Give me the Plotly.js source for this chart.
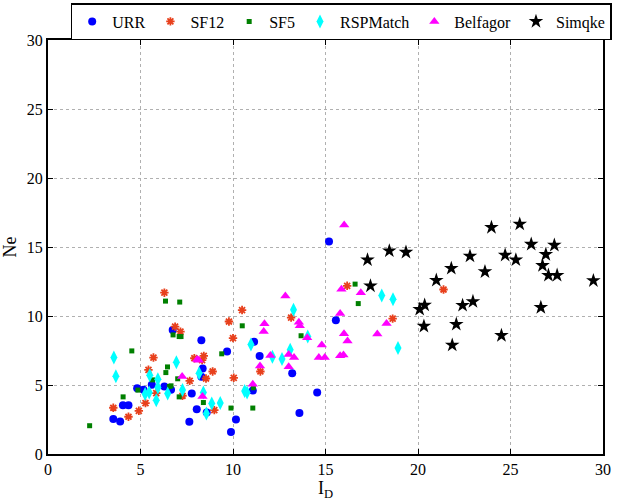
<!DOCTYPE html>
<html><head><meta charset="utf-8">
<script src="https://cdn.plot.ly/plotly-3.0.1.min.js"></script>
<style>html,body{margin:0;padding:0;background:#fff}#chart{width:626px;height:502px}</style>
</head><body><div id="chart"></div>
<script>
const seriesNames = ["URR","SF12","SF5","RSPMatch","Belfagor","Simqke"];

const urrX = [3.53,3.9,4.05,4.35,4.82,5.16,5.61,6.29,6.65,6.74,7.77,8.04,7.64,8.29,8.36,8.29,8.58,9.68,11.14,11.44,11.07,10.16,9.89,13.2,13.59,14.55,15.56,15.19];
const urrY = [2.53,2.36,3.54,3.54,4.77,4.65,5.01,4.89,4.65,8.99,4.39,3.25,2.34,8.24,6.19,5.59,3.01,7.43,8.14,7.1,4.6,2.5,1.6,5.86,2.98,4.45,9.69,15.4];

const sf12X = [3.53,4.35,4.91,5.27,5.43,5.7,5.85,6.29,6.87,7.16,7.27,7.66,7.91,8.33,8.42,8.54,8.9,8.99,9.78,10.49,10.0,10.04,11.48,13.14,16.17,18.63,21.38];
const sf12Y = [3.35,2.7,3.13,3.69,6.1,6.99,4.41,11.69,9.23,8.87,4.22,5.3,6.94,6.8,7.11,5.47,5.98,3.18,9.6,10.43,8.4,5.52,5.98,9.88,12.19,9.81,11.92];

const sf5X = [2.25,4.06,4.53,4.86,5.65,6.35,7.12,6.76,7.09,7.19,6.37,6.46,6.56,6.65,7.01,7.09,8.4,9.39,10.5,9.89,11.07,11.1,13.68,16.6,16.77];
const sf5Y = [2.05,4.14,7.47,4.63,5.37,11.08,11.01,8.63,8.51,8.51,5.9,6.31,4.89,4.94,5.45,4.14,3.73,7.26,9.29,3.33,3.33,4.8,8.57,12.31,10.9];

const rspX = [3.56,3.67,5.25,5.5,5.47,5.94,5.94,5.85,6.47,6.94,7.27,8.17,8.4,8.56,8.85,9.31,10.97,10.63,10.76,12.13,12.65,13.09,13.27,14.04,18.04,18.65,18.92];
const rspY = [6.99,5.64,4.34,5.71,4.46,5.42,4.82,3.9,4.39,6.65,4.63,5.86,4.46,2.94,3.66,3.69,7.93,4.57,4.45,7.05,6.88,7.55,10.45,8.52,11.49,11.22,7.68];

const belX = [7.25,8.06,8.15,8.35,11.07,11.46,11.66,11.7,12.02,12.83,13.01,13.3,13.01,13.56,13.61,14.01,14.8,14.64,14.96,15.79,15.86,16.91,16.0,16.19,15.79,15.97,17.8,18.3,16.01];
const belY = [5.61,6.84,6.8,4.17,5.05,6.38,8.88,9.43,7.14,11.45,7.21,7.0,6.33,9.55,9.29,8.43,7.9,7.0,7.0,10.19,11.93,11.69,8.71,8.19,7.12,7.17,8.7,9.45,16.59];

const simX = [17.27,18.45,19.35,17.43,20.09,20.36,20.32,20.99,21.8,21.85,22.07,22.41,22.97,22.81,23.62,23.97,24.51,24.71,25.29,25.5,26.12,26.64,26.73,26.91,27.05,27.37,27.52,29.48];
const simY = [14.07,14.72,14.62,12.18,10.48,10.79,9.26,12.59,13.45,7.89,9.4,10.77,11.05,14.34,13.21,16.42,8.59,14.41,14.07,16.66,15.2,10.62,13.66,14.46,12.95,15.13,12.95,12.56];

const xTicks = [0,5,10,15,20,25,30];
const yTicks = [0,5,10,15,20,25,30];

const traces = [
  {x:urrX,y:urrY,name:seriesNames[0],mode:'markers',type:'scatter',
   marker:{symbol:'circle',size:8,color:'#0000ff',line:{width:0}}},
  {x:sf12X,y:sf12Y,name:seriesNames[1],mode:'markers',type:'scatter',
   marker:{symbol:'asterisk-open',size:7,color:'#e8401c',line:{width:1.8,color:'#e8401c'}}},
  {x:sf5X,y:sf5Y,name:seriesNames[2],mode:'markers',type:'scatter',
   marker:{symbol:'square',size:5,color:'#008000',line:{width:0}}},
  {x:rspX,y:rspY,name:seriesNames[3],mode:'markers',type:'scatter',
   marker:{symbol:'diamond-tall',size:10,color:'#00ffff',line:{width:0}}},
  {x:belX,y:belY,name:seriesNames[4],mode:'markers',type:'scatter',
   marker:{symbol:'triangle-up',size:9,color:'#ff00ff',line:{width:0}}},
  {x:simX,y:simY,name:seriesNames[5],mode:'markers',type:'scatter',
   marker:{symbol:'star',size:11,color:'#000000',line:{width:0}}}
];

const serif = 'Liberation Serif';
const axBase = {
  showline:true, linecolor:'#000', linewidth:2, mirror:'ticks',
  ticks:'inside', ticklen:5, tickwidth:1, tickcolor:'#000',
  showgrid:true, gridcolor:'#b0b0b0', gridwidth:1, griddash:'dot',
  zeroline:false, fixedrange:true,
  tickfont:{family:serif,size:16,color:'#000'}
};

const layout = {
  width:626, height:502,
  margin:{l:48,r:23,t:38,b:48},
  paper_bgcolor:'#fff', plot_bgcolor:'#fff',
  font:{family:serif,size:16,color:'#000'},
  showlegend:true,
  legend:{orientation:'h', xref:'container', yref:'container',
          x:0.545, xanchor:'center', y:0.994, yanchor:'top',
          bordercolor:'#000', borderwidth:1.5, bgcolor:'#fff',
          font:{family:serif,size:16,color:'#000'},
          itemwidth:30, tracegroupgap:0},
  xaxis:Object.assign({}, axBase, {range:[0,30], tickvals:xTicks, ticktext:xTicks.map(String),
    title:{text:'I<sub>D</sub>', font:{family:serif,size:18,color:'#000'}, standoff:0}}),
  yaxis:Object.assign({}, axBase, {range:[0,30], tickvals:yTicks, ticktext:yTicks.map(String),
    title:{text:'Ne', font:{family:serif,size:18,color:'#000'}, standoff:6}})
};

Plotly.newPlot('chart', traces, layout, {displayModeBar:false, staticPlot:true});
</script></body></html>
